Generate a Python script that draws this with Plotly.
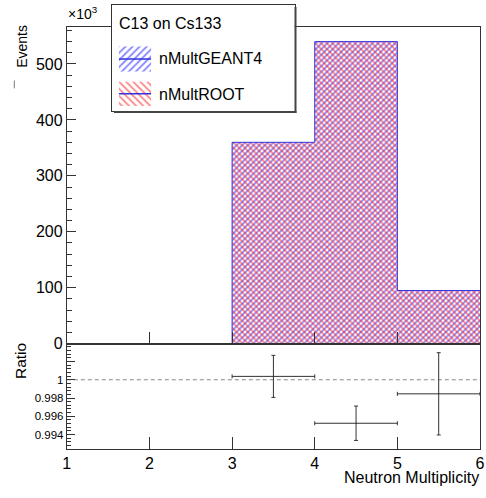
import plotly.graph_objects as go

# ---------------- data ----------------
bin_edges = [1, 2, 3, 4, 5, 6]
counts_geant4 = [0, 0, 360000, 540000, 95000]
counts_root = [0, 0, 360000, 540000, 95000]
ratio_x = [3.5, 4.5, 5.5]
ratio_y = [1.00037, 0.99524, 0.99846]
ratio_err = [0.0023, 0.00188, 0.0045]
ratio_xerr = [0.5, 0.5, 0.5]
upper_ticks = [0, 100, 200, 300, 400, 500]
lower_ticks = [0.994, 0.996, 0.998, 1.0, 1.002]
lower_ticktext = ["0.994", "0.996", "0.998", "1", ""]
x_ticks = [1, 2, 3, 4, 5, 6]
legend_title = "C13 on Cs133"
series_names = ["nMultGEANT4", "nMultROOT"]

W, H = 486, 498
FONT = "Liberation Sans, Arial, Helvetica, sans-serif"
AX = "#333333"
BLUE = "#1010ff"
RED = "#ff1010"


def px(p):
    return p / W


def py(p):
    return 1 - p / H


centers = [(a + b) / 2 for a, b in zip(bin_edges[:-1], bin_edges[1:])]
g4 = [c / 1e3 for c in counts_geant4]
rt = [c / 1e3 for c in counts_root]

PAT = dict(size=4, solidity=0.45, bgcolor="rgba(0,0,0,0)")

fig = go.Figure()

# histogram fills
fig.add_trace(go.Bar(
    x=centers, y=g4, width=1, xaxis="x", yaxis="y",
    marker=dict(color="rgba(0,0,0,0)", line=dict(width=0),
                pattern=dict(shape="/", fgcolor=BLUE, **PAT)),
    showlegend=False, name=series_names[0]))
fig.add_trace(go.Bar(
    x=centers, y=rt, width=1, xaxis="x", yaxis="y",
    marker=dict(color="rgba(0,0,0,0)", line=dict(width=0),
                pattern=dict(shape="\\", fgcolor=RED, **PAT)),
    showlegend=False, name=series_names[1]))
# step outlines
fig.add_trace(go.Scatter(
    x=bin_edges, y=rt + [rt[-1]], mode="lines", line=dict(shape="hv", color="#3333dd", width=1),
    xaxis="x", yaxis="y", showlegend=False, hoverinfo="skip"))

# ratio
fig.add_trace(go.Scatter(
    x=ratio_x, y=ratio_y, mode="markers", xaxis="x2", yaxis="y2",
    marker=dict(size=1, color="#222"),
    error_x=dict(type="data", array=ratio_xerr, color="#333", thickness=1, width=2),
    error_y=dict(type="data", array=ratio_err, color="#333", thickness=1, width=2),
    showlegend=False))

# legend swatches (mini axes)
fig.add_trace(go.Bar(x=[0], y=[1], width=1, xaxis="x4", yaxis="y4", showlegend=False,
                     marker=dict(color="rgba(0,0,0,0)", line=dict(width=0),
                                 pattern=dict(shape="/", fgcolor=BLUE, size=5, solidity=0.35,
                                              bgcolor="rgba(0,0,0,0)"))))
fig.add_trace(go.Scatter(x=[-0.5, 0.5], y=[0.5, 0.5], mode="lines", xaxis="x4", yaxis="y4",
                         line=dict(color="#3333dd", width=1.5), showlegend=False))
fig.add_trace(go.Bar(x=[0], y=[1], width=1, xaxis="x5", yaxis="y5", showlegend=False,
                     marker=dict(color="rgba(0,0,0,0)", line=dict(width=0),
                                 pattern=dict(shape="\\", fgcolor=RED, size=5, solidity=0.35,
                                              bgcolor="rgba(0,0,0,0)"))))
fig.add_trace(go.Scatter(x=[-0.5, 0.5], y=[0.5, 0.5], mode="lines", xaxis="x5", yaxis="y5",
                         line=dict(color="#3333dd", width=1.5), showlegend=False))
# legend box subplot (empty trace to create it)
fig.add_trace(go.Scatter(x=[None], y=[None], xaxis="x3", yaxis="y3", showlegend=False))

hidden = dict(showgrid=False, zeroline=False, showticklabels=False, ticks="")

fig.update_layout(
    width=W, height=H, autosize=False, margin=dict(l=0, r=0, t=0, b=0),
    paper_bgcolor="white", plot_bgcolor="white", barmode="overlay",
    font=dict(family=FONT, color="black", size=16),
    xaxis=dict(domain=[px(64), px(485)], range=[1, 6], tickvals=x_ticks, ticks="inside",
               ticklen=12, tickcolor=AX, showticklabels=False, showline=True, linecolor=AX,
               mirror=True, showgrid=False, zeroline=False, anchor="y"),
    yaxis=dict(domain=[py(350), py(27)], range=[0, 567], tickvals=upper_ticks, ticks="inside",
               ticklen=9, tickcolor=AX, showline=True, linecolor=AX, mirror=True,
               showgrid=False, zeroline=False, tickfont=dict(size=16), anchor="x",
               minor=dict(dtick=20, tick0=0, ticks="inside", ticklen=5, tickcolor=AX)),
    xaxis2=dict(domain=[px(64), px(485)], range=[1, 6], tickvals=x_ticks, ticks="inside",
                ticklen=12, tickcolor=AX, showline=True, linecolor=AX, mirror=True,
                showgrid=False, zeroline=False, tickfont=dict(size=16), anchor="y2",
                ticklabeloverflow="allow"),
    yaxis2=dict(domain=[py(457), py(350)], range=[0.99245, 1.00395], tickvals=lower_ticks,
                ticktext=lower_ticktext, ticks="inside", ticklen=8, tickcolor=AX,
                showline=True, linecolor=AX, mirror=True, showgrid=False, zeroline=False,
                tickfont=dict(size=11.5), anchor="x2",
                minor=dict(dtick=0.0004, tick0=0.994, ticks="inside", ticklen=4, tickcolor=AX)),
    xaxis3=dict(domain=[px(110), px(296)], range=[0, 1], showline=True, linecolor=AX,
                mirror=True, anchor="y3", **hidden),
    yaxis3=dict(domain=[py(113), py(5)], range=[0, 1], showline=True, linecolor=AX,
                mirror=True, anchor="x3", **hidden),
    xaxis4=dict(domain=[px(117), px(150)], range=[-0.5, 0.5], anchor="y4", **hidden),
    yaxis4=dict(domain=[py(73), py(47)], range=[0, 1], anchor="x4", **hidden),
    xaxis5=dict(domain=[px(117), px(150)], range=[-0.5, 0.5], anchor="y5", **hidden),
    yaxis5=dict(domain=[py(108), py(83)], range=[0, 1], anchor="x5", **hidden),
)

# reference line at ratio = 1
fig.add_shape(type="line", xref="x2 domain", yref="y2", x0=0, x1=1, y0=1, y1=1,
              line=dict(color="#888", width=1, dash="4px,3px"), layer="below")
# legend shadow
fig.add_shape(type="line", xref="paper", yref="paper", x0=px(297), x1=px(297), y0=py(115), y1=py(7),
              line=dict(color="#444", width=2), layer="above")
fig.add_shape(type="line", xref="paper", yref="paper", x0=px(112), x1=px(298), y0=py(114), y1=py(114),
              line=dict(color="#444", width=2), layer="above")
# small mark next to y title
fig.add_shape(type="line", xref="paper", yref="paper", x0=px(10.5), x1=px(10.5), y0=py(82), y1=py(90),
              line=dict(color="#777", width=1), layer="above")

ann = [
    dict(text=legend_title, x=px(115), y=py(24), xanchor="left", yanchor="middle", font=dict(size=16)),
    dict(text=series_names[0], x=px(156), y=py(60), xanchor="left", yanchor="middle", font=dict(size=16)),
    dict(text=series_names[1], x=px(156), y=py(96), xanchor="left", yanchor="middle", font=dict(size=16)),
    dict(text="×10<sup>3</sup>", x=px(63), y=py(24), xanchor="left", yanchor="bottom", font=dict(size=14)),
    dict(text="Events", x=px(18), y=py(47), xanchor="center", yanchor="middle", textangle=-90,
         font=dict(size=14)),
    dict(text="Ratio", x=px(17), y=py(368), xanchor="center", yanchor="middle", textangle=-90,
         font=dict(size=15.5)),
    dict(text="Neutron Multiplicity", x=px(486), y=py(486), xanchor="right", yanchor="middle",
         font=dict(size=16)),
]
for a in ann:
    a.update(xref="paper", yref="paper", showarrow=False)
    fig.add_annotation(**a)

fig.write_html(
    "out.html",
    config={"displayModeBar": False, "responsive": False},
    post_script="document.documentElement.style.margin='0';document.body.style.margin='0';"
                "document.body.style.padding='0';"
                "document.body.style.overflow='hidden';document.documentElement.style.overflow='hidden';",
)
